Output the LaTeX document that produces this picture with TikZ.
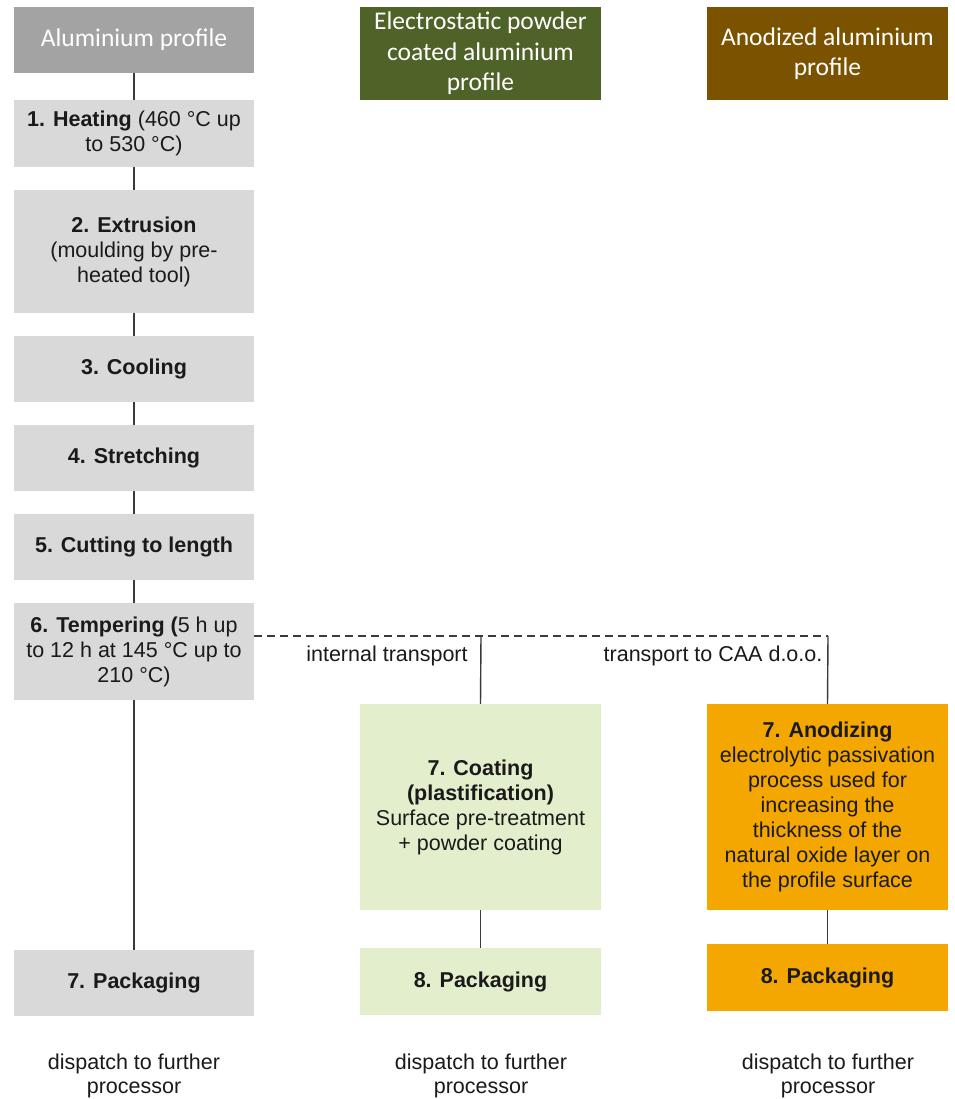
\documentclass[tikz,border=0pt]{standalone}
\usepackage{fontspec}
\setmainfont{Liberation Sans}
\newfontfamily\hdfont{Carlito}
\newfontfamily\bodyfont{Liberation Sans}
\usetikzlibrary{positioning}
\definecolor{hgray}{HTML}{A3A3A3}
\definecolor{sgray}{HTML}{D9D9D9}
\definecolor{hgreen}{HTML}{4F6228}
\definecolor{lgreen}{HTML}{E3EFCC}
\definecolor{hbrown}{HTML}{7B5300}
\definecolor{orng}{HTML}{F4A700}
\definecolor{lncol}{HTML}{3A3A3A}
\definecolor{txt}{HTML}{1A1A1A}
\tikzset{
  box/.style={draw=none, align=center, inner sep=2pt, text=txt,
    font=\bodyfont\fontsize{21.5}{25}\selectfont},
  hdbox/.style={box, text=white, font=\hdfont\fontsize{25.5}{30.5}\selectfont},
  stepbox/.style={box, fill=sgray, minimum width=240pt},
  colbox/.style={box, minimum width=241pt},
  link/.style={draw=lncol, line width=1.4pt},
  dlink/.style={link, dash pattern=on 8pt off 5pt},
  lbl/.style={align=center, text=txt, inner sep=0pt, font=\bodyfont\fontsize{21.5}{24}\selectfont}
}
\begin{document}
\begin{tikzpicture}[x=1pt,y=-1pt]
\useasboundingbox[fill=white] (0,0) rectangle (954,1099);
% headers
\node[hdbox, fill=hgray, minimum width=240pt, minimum height=66pt] (h1) at (134,40) {Aluminium profile};
\node[hdbox, fill=hgreen, minimum width=241pt, minimum height=93pt] (h2) at (480.5,53.5) {Electrostatic powder\\coated aluminium\\profile};
\node[hdbox, fill=hbrown, minimum width=241pt, minimum height=93pt] (h3) at (827.5,53.5) {Anodized aluminium\\profile};
% left column
\node[stepbox, minimum height=67pt] (s1) at (134,133.5) {\textbf{1. Heating} (460 °C up\\to 530 °C)};
\node[stepbox, minimum height=123pt] (s2) at (134,251.5) {\textbf{2. Extrusion}\\(moulding by pre-\\heated tool)};
\node[stepbox, minimum height=66pt] (s3) at (134,369) {\textbf{3. Cooling}};
\node[stepbox, minimum height=66pt] (s4) at (134,458) {\textbf{4. Stretching}};
\node[stepbox, minimum height=66pt] (s5) at (134,547) {\textbf{5. Cutting to length}};
\node[stepbox, minimum height=97pt] (s6) at (134,651.5) {\textbf{6. Tempering (}5 h up\\to 12 h at 145 °C up to\\210 °C)};
\node[stepbox, minimum height=66pt] (s7) at (134,983) {\textbf{7. Packaging}};
% middle column
\node[colbox, fill=lgreen, minimum height=206pt] (c7) at (480.5,807) {\textbf{7. Coating}\\\textbf{(plastification)}\\Surface pre-treatment\\+ powder coating};
\node[colbox, fill=lgreen, minimum height=67pt] (c8) at (480.5,981.5) {\textbf{8. Packaging}};
% right column
\node[colbox, fill=orng, minimum height=206pt] (a7) at (827.5,807) {\textbf{7. Anodizing}\\electrolytic passivation\\process used for\\increasing the\\thickness of the\\natural oxide layer on\\the profile surface};
\node[colbox, fill=orng, minimum height=67pt] (a8) at (827.5,977.5) {\textbf{8. Packaging}};
% connectors
\draw[link] (h1) -- (s1);
\draw[link] (s1) -- (s2);
\draw[link] (s2) -- (s3);
\draw[link] (s3) -- (s4);
\draw[link] (s4) -- (s5);
\draw[link] (s5) -- (s6);
\draw[link] (s6) -- (s7);
\draw[link] (c7) -- (c8);
\draw[link] (a7) -- (a8);
\coordinate (jm) at (481,636);
\coordinate (jr) at (828,636);
\draw[dlink] (s6.east |- jm) -- (jr);
\draw[link] (jm) -- (c7.north);
\draw[link] (jr) -- (a7.north);
% labels
\node[lbl] (t1) at (387,656) {internal transport};
\node[lbl] (t2) at (713,656) {transport to CAA d.o.o.};
\node[lbl] (d1) at (134,1076) {dispatch to further\\processor};
\node[lbl] (d2) at (481,1076) {dispatch to further\\processor};
\node[lbl] (d3) at (828,1076) {dispatch to further\\processor};
\end{tikzpicture}
\end{document}
